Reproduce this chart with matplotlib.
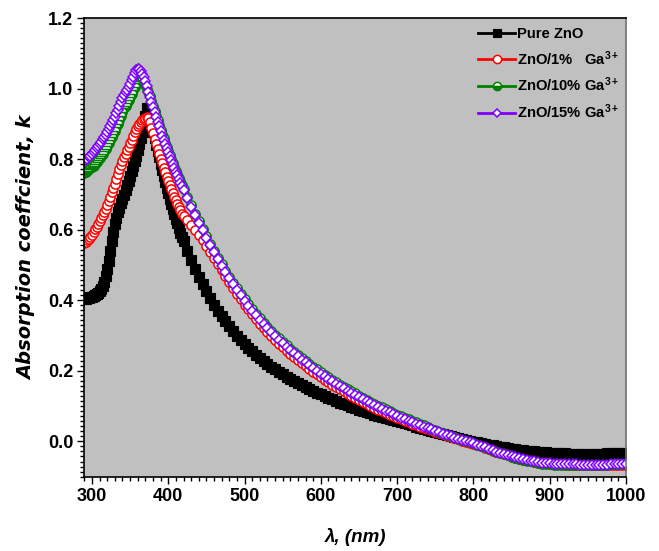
import matplotlib
matplotlib.use("Agg")
import matplotlib.pyplot as plt
from matplotlib.lines import Line2D
from matplotlib.ticker import MultipleLocator, AutoMinorLocator
from matplotlib import font_manager

# ---------------- data ----------------
wavelength = list(range(290, 420, 2)) + list(range(420, 1001, 5))

pure_zno = [
    0.405, 0.405, 0.406, 0.407, 0.408, 0.410, 0.412, 0.414, 0.417, 0.421,
    0.426, 0.432, 0.440, 0.452, 0.468, 0.488, 0.512, 0.540, 0.568, 0.594,
    0.616, 0.634, 0.650, 0.663, 0.676, 0.688, 0.700, 0.713, 0.726, 0.739,
    0.752, 0.766, 0.780, 0.794, 0.809, 0.825, 0.842, 0.860, 0.878, 0.897,
    0.922, 0.945, 0.935, 0.915, 0.895, 0.877, 0.859, 0.841, 0.823, 0.805,
    0.787, 0.769, 0.752, 0.735, 0.719, 0.703, 0.688, 0.673, 0.659, 0.645,
    0.631, 0.618, 0.605, 0.592, 0.580,
    0.568, 0.540, 0.514, 0.490, 0.467, 0.445, 0.425, 0.406, 0.388, 0.371,
    0.355, 0.340, 0.326, 0.313, 0.300, 0.288, 0.277, 0.266, 0.256, 0.246,
    0.237, 0.228, 0.220, 0.212, 0.204, 0.197, 0.190, 0.183, 0.177, 0.171,
    0.165, 0.159, 0.154, 0.148, 0.143, 0.138, 0.133, 0.128, 0.123, 0.119,
    0.114, 0.110, 0.106, 0.102, 0.098, 0.094, 0.090, 0.086, 0.083, 0.079,
    0.076, 0.073, 0.069, 0.066, 0.063, 0.060, 0.057, 0.054, 0.051, 0.048,
    0.045, 0.042, 0.039, 0.036, 0.033, 0.030, 0.027, 0.024, 0.021, 0.018,
    0.015, 0.012, 0.009, 0.006, 0.004, 0.001, -0.001, -0.003, -0.005, -0.007,
    -0.009, -0.011, -0.013, -0.015, -0.017, -0.019, -0.021, -0.022, -0.024, -0.025,
    -0.026, -0.027, -0.028, -0.029, -0.030, -0.031, -0.032, -0.033, -0.033, -0.034,
    -0.034, -0.035, -0.035, -0.035, -0.035, -0.035, -0.035, -0.035, -0.035, -0.035,
    -0.035, -0.034, -0.034, -0.034, -0.034, -0.034, -0.034,
]

ga_1 = [
    0.562, 0.566, 0.570, 0.575, 0.580, 0.586, 0.593, 0.601, 0.609, 0.617,
    0.625, 0.633, 0.641, 0.650, 0.660, 0.671, 0.682, 0.694, 0.706, 0.718,
    0.730, 0.743, 0.757, 0.771, 0.784, 0.796, 0.806, 0.815, 0.825, 0.835,
    0.845, 0.855, 0.866, 0.876, 0.885, 0.893, 0.900, 0.906, 0.911, 0.915,
    0.918, 0.920, 0.918, 0.906, 0.890, 0.873, 0.858, 0.843, 0.829, 0.815,
    0.801, 0.788, 0.775, 0.763, 0.751, 0.739, 0.727, 0.716, 0.705, 0.694,
    0.684, 0.674, 0.664, 0.655, 0.646,
    0.640, 0.627, 0.613, 0.599, 0.585, 0.570, 0.554, 0.537, 0.520, 0.503,
    0.485, 0.468, 0.451, 0.434, 0.419, 0.403, 0.388, 0.374, 0.360, 0.347,
    0.334, 0.322, 0.310, 0.299, 0.288, 0.277, 0.267, 0.257, 0.248, 0.239,
    0.230, 0.222, 0.214, 0.206, 0.198, 0.190, 0.182, 0.175, 0.168, 0.161,
    0.155, 0.148, 0.142, 0.135, 0.129, 0.123, 0.117, 0.112, 0.106, 0.100,
    0.095, 0.090, 0.085, 0.080, 0.075, 0.071, 0.066, 0.062, 0.058, 0.054,
    0.050, 0.046, 0.042, 0.039, 0.035, 0.031, 0.027, 0.023, 0.020, 0.016,
    0.012, 0.009, 0.006, 0.002, -0.001, -0.004, -0.007, -0.010, -0.014, -0.018,
    -0.022, -0.026, -0.030, -0.033, -0.037, -0.040, -0.043, -0.046, -0.049, -0.052,
    -0.054, -0.056, -0.058, -0.060, -0.061, -0.062, -0.063, -0.064, -0.065, -0.065,
    -0.066, -0.066, -0.066, -0.066, -0.067, -0.067, -0.067, -0.067, -0.067, -0.067,
    -0.067, -0.067, -0.066, -0.066, -0.066, -0.066, -0.066,
]

ga_10 = [
    0.762, 0.765, 0.768, 0.771, 0.774, 0.778, 0.782, 0.787, 0.792, 0.797,
    0.803, 0.809, 0.816, 0.823, 0.830, 0.838, 0.846, 0.854, 0.863, 0.872,
    0.881, 0.891, 0.901, 0.912, 0.923, 0.934, 0.944, 0.952, 0.960, 0.968,
    0.977, 0.986, 0.996, 1.006, 1.015, 1.022, 1.027, 1.028, 1.025, 1.018,
    1.010, 1.000, 0.990, 0.978, 0.965, 0.952, 0.938, 0.924, 0.910, 0.897,
    0.884, 0.871, 0.859, 0.847, 0.835, 0.824, 0.812, 0.801, 0.790, 0.779,
    0.768, 0.758, 0.747, 0.737, 0.727,
    0.717, 0.693, 0.669, 0.646, 0.624, 0.602, 0.581, 0.560, 0.540, 0.521,
    0.502, 0.484, 0.467, 0.450, 0.434, 0.418, 0.403, 0.389, 0.375, 0.362,
    0.349, 0.337, 0.325, 0.314, 0.303, 0.292, 0.282, 0.272, 0.263, 0.254,
    0.245, 0.236, 0.228, 0.220, 0.212, 0.204, 0.196, 0.189, 0.182, 0.175,
    0.168, 0.161, 0.155, 0.148, 0.142, 0.136, 0.130, 0.124, 0.118, 0.112,
    0.107, 0.101, 0.096, 0.091, 0.086, 0.081, 0.076, 0.071, 0.067, 0.062,
    0.058, 0.054, 0.049, 0.045, 0.041, 0.036, 0.032, 0.027, 0.023, 0.019,
    0.015, 0.011, 0.007, 0.003, 0.000, -0.003, -0.006, -0.009, -0.013, -0.017,
    -0.021, -0.025, -0.029, -0.033, -0.037, -0.040, -0.043, -0.046, -0.049, -0.052,
    -0.055, -0.057, -0.059, -0.061, -0.063, -0.064, -0.065, -0.066, -0.067, -0.067,
    -0.068, -0.068, -0.068, -0.068, -0.068, -0.068, -0.067, -0.067, -0.066, -0.066,
    -0.066, -0.066, -0.065, -0.065, -0.065, -0.065, -0.065,
]

ga_15 = [
    0.795, 0.798, 0.802, 0.806, 0.810, 0.815, 0.820, 0.825, 0.831, 0.837,
    0.843, 0.849, 0.856, 0.863, 0.870, 0.878, 0.886, 0.894, 0.903, 0.912,
    0.921, 0.931, 0.941, 0.952, 0.963, 0.974, 0.983, 0.990, 0.997, 1.005,
    1.014, 1.024, 1.034, 1.044, 1.052, 1.057, 1.056, 1.051, 1.043, 1.033,
    1.021, 1.007, 0.992, 0.977, 0.962, 0.948, 0.934, 0.920, 0.906, 0.893,
    0.880, 0.867, 0.855, 0.843, 0.831, 0.820, 0.808, 0.797, 0.786, 0.775,
    0.764, 0.754, 0.743, 0.733, 0.723,
    0.713, 0.689, 0.665, 0.642, 0.620, 0.598, 0.577, 0.556, 0.536, 0.517,
    0.498, 0.480, 0.463, 0.446, 0.430, 0.414, 0.399, 0.385, 0.371, 0.358,
    0.345, 0.333, 0.321, 0.310, 0.299, 0.288, 0.278, 0.268, 0.259, 0.250,
    0.241, 0.232, 0.224, 0.216, 0.208, 0.200, 0.192, 0.185, 0.178, 0.171,
    0.164, 0.157, 0.151, 0.144, 0.138, 0.132, 0.126, 0.120, 0.114, 0.108,
    0.103, 0.097, 0.092, 0.087, 0.082, 0.077, 0.072, 0.067, 0.063, 0.058,
    0.054, 0.050, 0.046, 0.042, 0.038, 0.034, 0.030, 0.026, 0.022, 0.018,
    0.014, 0.010, 0.007, 0.003, 0.000, -0.003, -0.006, -0.009, -0.013, -0.017,
    -0.021, -0.025, -0.029, -0.032, -0.036, -0.039, -0.042, -0.045, -0.048, -0.051,
    -0.053, -0.055, -0.057, -0.059, -0.060, -0.061, -0.062, -0.063, -0.064, -0.064,
    -0.065, -0.065, -0.065, -0.065, -0.066, -0.066, -0.066, -0.066, -0.066, -0.066,
    -0.066, -0.066, -0.065, -0.065, -0.065, -0.065, -0.065,
]

labels = ["Pure ZnO", r"ZnO/1%   $\mathrm{Ga}^{3+}$",
          r"ZnO/10% $\mathrm{Ga}^{3+}$", r"ZnO/15% $\mathrm{Ga}^{3+}$"]
x_ticks = [300, 400, 500, 600, 700, 800, 900, 1000]
y_ticks = [0.0, 0.2, 0.4, 0.6, 0.8, 1.0, 1.2]

# ---------------- fonts ----------------
names = {f.name for f in font_manager.fontManager.ttflist}
tick_font = "Liberation Sans Narrow" if "Liberation Sans Narrow" in names else "Liberation Sans"
plt.rcParams["font.family"] = ["Liberation Sans", "DejaVu Sans"]
plt.rcParams["mathtext.fontset"] = "custom"
plt.rcParams["mathtext.rm"] = "Liberation Sans:bold"
plt.rcParams["mathtext.it"] = "Liberation Sans:bold"
plt.rcParams["mathtext.bf"] = "Liberation Sans:bold"

# ---------------- figure ----------------
fig = plt.figure(figsize=(6.59, 5.51), dpi=100)
ax = fig.add_axes([0.128, 0.135, 0.822, 0.832])
ax.set_facecolor("#C0C0C0")

styles = [
    dict(marker="s", color="black", markerfacecolor="black", markeredgecolor="black",
         markersize=6.8, markeredgewidth=0.8),
    dict(marker="o", color="#FF0000", markerfacecolor="white", markeredgecolor="#FF0000",
         markersize=6.6, markeredgewidth=1.1),
    dict(marker="o", color="#008000", markerfacecolor="#008000", markerfacecoloralt="white",
         fillstyle="bottom", markeredgecolor="#008000", markersize=6.6, markeredgewidth=1.1),
    dict(marker="D", color="#8000FF", markerfacecolor="white", markeredgecolor="#8000FF",
         markersize=5.0, markeredgewidth=1.1),
]
series = [pure_zno, ga_1, ga_10, ga_15]

for vals, st in zip(series, styles):
    ax.plot(wavelength, vals, linestyle="none", **st)

ax.set_xlim(290, 1000)
ax.set_ylim(-0.1, 1.2)
ax.set_xticks(x_ticks)
ax.xaxis.set_minor_locator(MultipleLocator(10))
ax.set_yticks(y_ticks)
ax.yaxis.set_minor_locator(AutoMinorLocator(14))
ax.set_yticklabels([f"{v:.1f}" for v in y_ticks])
ax.set_xticklabels([str(v) for v in x_ticks])

ax.tick_params(axis="both", which="major", direction="out", length=5, width=1.0,
               top=False, right=False, pad=3)
ax.tick_params(axis="both", which="minor", direction="out", length=2.8, width=1.0,
               top=False, right=False)
for lab in ax.get_xticklabels() + ax.get_yticklabels():
    lab.set_fontfamily(tick_font)
    lab.set_fontweight("bold")
    lab.set_fontsize(13)

for side in ["left", "bottom", "top"]:
    ax.spines[side].set_color("black")
    ax.spines[side].set_linewidth(1.2)
ax.spines["right"].set_color("#707070")
ax.spines["right"].set_linewidth(1.2)

ax.set_ylabel("Absorption coeffcient, k", fontfamily="DejaVu Sans", fontweight="bold",
              fontstyle="italic", fontsize=14, labelpad=8)
ax.set_xlabel("λ, (nm)", fontfamily=["Liberation Sans", "DejaVu Sans"], fontweight="bold",
              fontstyle="italic", fontsize=13.5, labelpad=17)

handles = [Line2D([0], [0], linestyle="-", linewidth=2.0, **st) for st in styles]
leg = ax.legend(handles, labels, loc="upper left", bbox_to_anchor=(0.727, 0.981),
                frameon=False, borderpad=0, borderaxespad=0, handlelength=2.5,
                handletextpad=0.15, labelspacing=0.55, markerscale=0.9,
                prop=dict(family="Liberation Sans", weight="bold", size=10.6))

fig.savefig("out.png", dpi=100)
